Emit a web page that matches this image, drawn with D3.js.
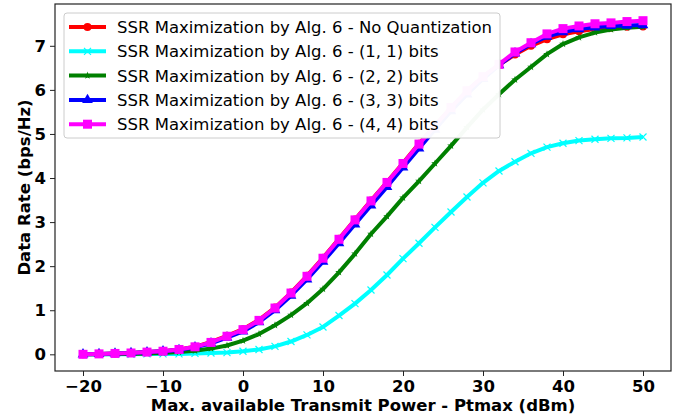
<!DOCTYPE html>
<html>
<head>
<meta charset="utf-8">
<script src="https://cdn.jsdelivr.net/npm/d3@7"></script>
<style>
  body { margin: 0; background: #fff; }
  svg { font-family: "DejaVu Sans", sans-serif; }
</style>
</head>
<body>
<svg id="chart" width="678" height="419"></svg>
<script>
// power levels (dBm)
var power = d3.range(-20, 51, 2);

var noQuant = [0.00, 0.01, 0.02, 0.03, 0.05, 0.07, 0.11, 0.17, 0.28, 0.42, 0.57, 0.78, 1.06, 1.40, 1.78, 2.19, 2.62, 3.06, 3.49, 3.91, 4.34, 4.78, 5.19, 5.60, 5.98, 6.30, 6.57, 6.80, 7.00, 7.15, 7.26, 7.33, 7.38, 7.41, 7.43, 7.44];
var bits11  = [0.00, 0.00, 0.00, 0.00, 0.01, 0.01, 0.01, 0.02, 0.03, 0.04, 0.07, 0.11, 0.18, 0.29, 0.44, 0.62, 0.88, 1.15, 1.46, 1.80, 2.17, 2.52, 2.88, 3.23, 3.57, 3.89, 4.16, 4.37, 4.56, 4.70, 4.79, 4.85, 4.88, 4.90, 4.91, 4.93];
var bits22  = [0.00, 0.00, 0.01, 0.01, 0.02, 0.03, 0.05, 0.08, 0.13, 0.20, 0.31, 0.46, 0.66, 0.89, 1.16, 1.48, 1.86, 2.28, 2.73, 3.13, 3.55, 3.93, 4.33, 4.73, 5.15, 5.55, 5.90, 6.23, 6.52, 6.81, 7.04, 7.19, 7.30, 7.37, 7.41, 7.43];
var bits33  = [0.00, 0.01, 0.02, 0.03, 0.05, 0.07, 0.10, 0.16, 0.25, 0.38, 0.52, 0.73, 1.00, 1.33, 1.70, 2.10, 2.52, 2.95, 3.38, 3.80, 4.24, 4.67, 5.10, 5.52, 5.90, 6.25, 6.56, 6.83, 7.04, 7.21, 7.31, 7.38, 7.42, 7.45, 7.46, 7.47];
var bits44  = [0.00, 0.01, 0.02, 0.03, 0.05, 0.07, 0.11, 0.17, 0.27, 0.41, 0.56, 0.77, 1.05, 1.39, 1.77, 2.18, 2.61, 3.05, 3.48, 3.90, 4.33, 4.77, 5.18, 5.60, 5.98, 6.30, 6.58, 6.86, 7.07, 7.27, 7.39, 7.45, 7.50, 7.52, 7.55, 7.57];

var seriesNames = [
  "SSR Maximization by Alg. 6 - No Quantization",
  "SSR Maximization by Alg. 6 - (1, 1) bits",
  "SSR Maximization by Alg. 6 - (2, 2) bits",
  "SSR Maximization by Alg. 6 - (3, 3) bits",
  "SSR Maximization by Alg. 6 - (4, 4) bits"
];
var xTicks = [-20, -10, 0, 10, 20, 30, 40, 50];
var yTicks = [0, 1, 2, 3, 4, 5, 6, 7];

var series = [
  { name: seriesNames[0], values: noQuant, color: "#ff0000", marker: "circle" },
  { name: seriesNames[1], values: bits11, color: "#00ffff", marker: "x" },
  { name: seriesNames[2], values: bits22, color: "#008000", marker: "star" },
  { name: seriesNames[3], values: bits33, color: "#0000ff", marker: "triangle" },
  { name: seriesNames[4], values: bits44, color: "#ff00ff", marker: "square" }
];

var fontSize = 16.5;

var margin = { top: 4, right: 7, bottom: 48, left: 55 },
	width = 678 - margin.left - margin.right,
	height = 419 - margin.top - margin.bottom;

var svg = d3.select("#chart");
var g = svg.append("g").attr("transform", "translate(" + margin.left + "," + margin.top + ")");

var x = d3.scaleLinear().domain([-23.5, 53.5]).range([0, width]);
var y = d3.scaleLinear().domain([-0.3785, 7.9485]).range([height, 0]);

// markers
function drawMarker(sel, type, color) {
	if (type == "circle") {
		sel.append("circle").attr("r", 4).attr("fill", color);
	} else if (type == "square") {
		sel.append("rect").attr("x", -4.5).attr("y", -4.5).attr("width", 9).attr("height", 9).attr("fill", color);
	} else if (type == "triangle") {
		sel.append("path").attr("d", d3.symbol().type(d3.symbolTriangle).size(50)).attr("fill", color);
	} else if (type == "star") {
		sel.append("path").attr("d", d3.symbol().type(d3.symbolStar).size(18)).attr("fill", color);
	} else if (type == "x") {
		sel.append("path").attr("d", "M-3.5,-3.5L3.5,3.5M-3.5,3.5L3.5,-3.5")
			.attr("stroke", color).attr("stroke-width", 1.2);
	}
}

var line = d3.line()
	.x(function(d, i) { return x(power[i]); })
	.y(function(d) { return y(d); });

var plot = g.append("g");

series.forEach(function(s) {
	var sg = plot.append("g");
	sg.append("path")
		.attr("d", line(s.values))
		.attr("fill", "none")
		.attr("stroke", s.color)
		.attr("stroke-width", 4)
		.attr("stroke-linejoin", "round");
	sg.selectAll("g.mk").data(s.values).enter().append("g")
		.attr("class", "mk")
		.attr("transform", function(d, i) { return "translate(" + x(power[i]) + "," + y(d) + ")"; })
		.each(function() { drawMarker(d3.select(this), s.marker, s.color); });
});

// axes
var xAxis = g.append("g").attr("transform", "translate(0," + height + ")")
	.call(d3.axisBottom(x).tickValues(xTicks).tickSize(5).tickPadding(4)
		.tickFormat(function(d) { return d < 0 ? "\u2212" + Math.abs(d) : d; }));
var yAxis = g.append("g")
	.call(d3.axisLeft(y).tickValues(yTicks).tickSize(5).tickPadding(4));

[xAxis, yAxis].forEach(function(a) {
	a.select(".domain").remove();
	a.selectAll("line").attr("stroke", "#222").attr("stroke-width", 1);
	a.selectAll("text").attr("font-size", fontSize).attr("font-weight", "bold")
		.attr("font-family", "DejaVu Sans").attr("fill", "#000");
});

// frame
g.append("rect").attr("width", width).attr("height", height)
	.attr("fill", "none").attr("stroke", "#222").attr("stroke-width", 1.2);

// axis labels
svg.append("text")
	.attr("x", margin.left + width / 2).attr("y", 411)
	.attr("text-anchor", "middle").attr("font-size", fontSize).attr("font-weight", "bold")
	.text("Max. available Transmit Power - Ptmax (dBm)");
svg.append("text")
	.attr("transform", "translate(30," + (margin.top + height / 2) + ") rotate(-90)")
	.attr("text-anchor", "middle").attr("font-size", fontSize).attr("font-weight", "bold")
	.text("Data Rate (bps/Hz)");

// legend
var legend = svg.append("g").attr("transform", "translate(64,13)");
legend.append("rect").attr("width", 436).attr("height", 125).attr("rx", 3)
	.attr("fill", "#fff").attr("fill-opacity", 0.97)
	.attr("stroke", "#ccc").attr("stroke-width", 1);

series.forEach(function(s, i) {
	var row = legend.append("g").attr("transform", "translate(0," + (14 + i * 24.3) + ")");
	row.append("line").attr("x1", 5).attr("x2", 42).attr("y1", 0).attr("y2", 0)
		.attr("stroke", s.color).attr("stroke-width", 4);
	var m = row.append("g").attr("transform", "translate(23.5,0)");
	drawMarker(m, s.marker, s.color);
	row.append("text").attr("x", 53).attr("y", 6)
		.attr("font-size", fontSize).attr("fill", "#000").text(s.name);
});
</script>
</body>
</html>
